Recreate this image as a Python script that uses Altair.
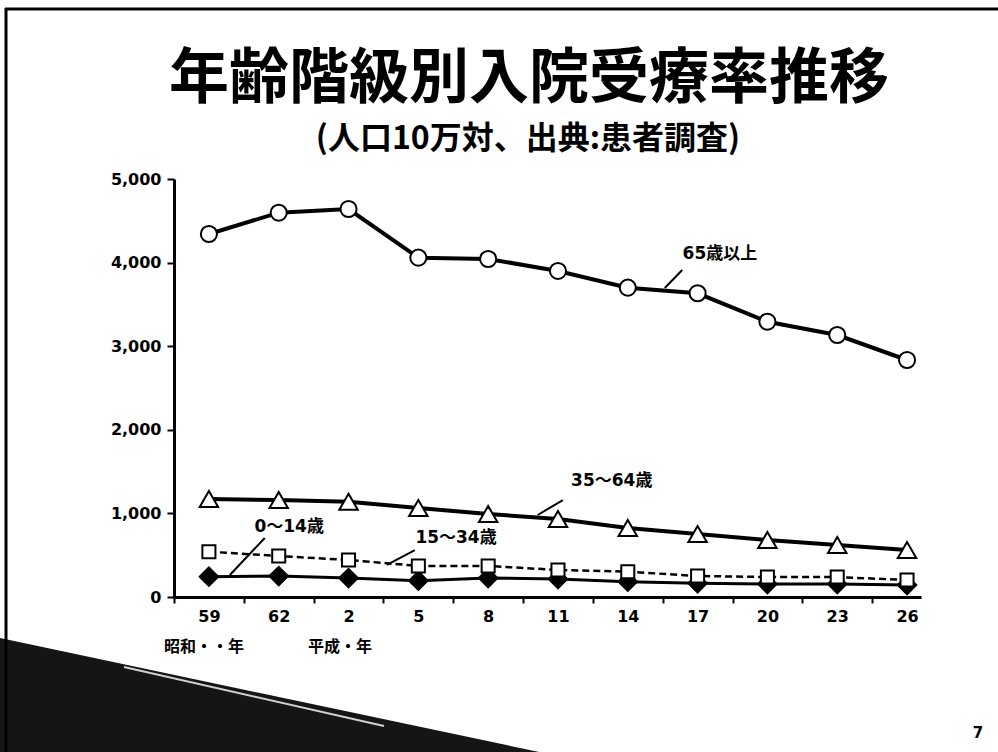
import altair as alt
import pandas as pd

# ---- data ----
years = ["59", "62", "2", "5", "8", "11", "14", "17", "20", "23", "26"]
age65 = [4342, 4597, 4641, 4059, 4043, 3900, 3700, 3633, 3293, 3134, 2835]
age35 = [1172, 1160, 1140, 1065, 993, 933, 825, 754, 682, 622, 562]
age15 = [542, 490, 443, 371, 371, 323, 303, 251, 239, 239, 203]
age0 = [243, 251, 227, 195, 227, 215, 183, 164, 155, 155, 143]

series_names = ["65歳以上", "35～64歳", "15～34歳", "0～14歳"]
label_x = [7.32, 5.77, 3.54, 1.15]
label_y = [4103, 1388, 706, 837]
ptr_x = [6.78, 5.07, 2.95, 0.80]
ptr_y = [3911, 1160, 562, 706]
ptr_x2 = [6.53, 4.71, 2.55, 0.30]
ptr_y2 = [3696, 981, 383, 263]

title_text = "年齢階級別入院受療率推移"
subtitle_text = "(人口10万対、出典:患者調査)"
era_labels = ["昭和・・年", "平成・年"]

W, H = 747, 418
NUM_FONT = "DejaVu Sans, Noto Sans CJK JP"
CJK_FONT = "Noto Sans CJK JP"

xscale = alt.Scale(domain=[-0.5, 10.2], nice=False, zero=False)
yscale = alt.Scale(domain=[0, 5000], nice=False, zero=True)
half = W / 10.7 / 2

label_expr = "[" + ",".join("'%s'" % y for y in years) + "][datum.value]"
xaxis = alt.Axis(values=list(range(11)), tickOffset=-half, labelOffset=half,
                 labelExpr=label_expr, labelFlush=False, title=None, grid=False,
                 domainColor="black", domainWidth=3, tickColor="black", tickWidth=2,
                 tickSize=6, labelFont="DejaVu Sans", labelFontWeight="bold",
                 labelFontSize=16, labelColor="black", labelPadding=5)
yaxis = alt.Axis(values=[0, 1000, 2000, 3000, 4000, 5000], format=",.0f", title=None,
                 grid=False, domainColor="black", domainWidth=3, tickColor="black",
                 tickWidth=2, tickSize=7, labelFont="DejaVu Sans", labelFontWeight="bold",
                 labelFontSize=16, labelColor="black", labelPadding=6)


def series_layers(vals, dash, sw, shape, fill, size):
    df = pd.DataFrame({"idx": list(range(len(years))), "value": vals})
    base = alt.Chart(df).encode(
        x=alt.X("idx:Q", scale=xscale, axis=xaxis),
        y=alt.Y("value:Q", scale=yscale, axis=yaxis),
    )
    lk = dict(color="black", strokeWidth=sw)
    if dash:
        lk["strokeDash"] = dash
    line = base.mark_line(**lk)
    pts = base.mark_point(shape=shape, filled=True, fill=fill, stroke="black",
                          strokeWidth=2, size=size, opacity=1)
    return [line, pts]


layers = []
layers += series_layers(age0, None, 3, "diamond", "black", 340)
layers += series_layers(age15, [7, 4], 2.5, "square", "white", 170)
layers += series_layers(age35, None, 4, "triangle-up", "white", 340)
layers += series_layers(age65, None, 4, "circle", "white", 260)

ann = pd.DataFrame({"label": series_names, "x": label_x, "y": label_y})
ann_text = alt.Chart(ann).mark_text(font=NUM_FONT, fontWeight="bold", fontSize=17,
                                    color="black", baseline="middle").encode(
    x=alt.X("x:Q", scale=xscale), y=alt.Y("y:Q", scale=yscale), text="label:N")

ptr = pd.DataFrame({"x": ptr_x, "y": ptr_y, "x2": ptr_x2, "y2": ptr_y2})
ptr_rules = alt.Chart(ptr).mark_rule(color="black", strokeWidth=2).encode(
    x=alt.X("x:Q", scale=xscale), y=alt.Y("y:Q", scale=yscale), x2="x2:Q", y2="y2:Q")

# ---- titles and slide text ----
tdf = pd.DataFrame({"t": [title_text]})
title = alt.Chart(tdf).mark_text(font=CJK_FONT, fontWeight="bold", fontSize=60,
                                 color="black", baseline="middle", align="center").encode(
    text="t:N", x=alt.value(355), y=alt.value(-99))
sdf = pd.DataFrame({"t": [subtitle_text]})
subtitle = alt.Chart(sdf).mark_text(font=CJK_FONT, fontWeight="bold", fontSize=32,
                                    color="black", baseline="middle", align="center").encode(
    text="t:N", x=alt.value(354), y=alt.value(-40))
e1 = alt.Chart(pd.DataFrame({"t": [era_labels[0]]})).mark_text(
    font=CJK_FONT, fontWeight="bold", fontSize=16, color="black", baseline="middle",
    align="center").encode(text="t:N", x=alt.value(30), y=alt.value(468))
e2 = alt.Chart(pd.DataFrame({"t": [era_labels[1]]})).mark_text(
    font=CJK_FONT, fontWeight="bold", fontSize=16, color="black", baseline="middle",
    align="center").encode(text="t:N", x=alt.value(166), y=alt.value(468))
pg = alt.Chart(pd.DataFrame({"t": ["7"]})).mark_text(
    font="DejaVu Sans", fontWeight="bold", fontSize=15, color="black", baseline="middle").encode(
    text="t:N", x=alt.value(804), y=alt.value(554))

# slide frame and corner decoration
frame_top = alt.Chart(pd.DataFrame({"a": [0]})).mark_rule(color="black", strokeWidth=3).encode(
    x=alt.value(-169), x2=alt.value(824), y=alt.value(-170), y2=alt.value(-170))
frame_left = alt.Chart(pd.DataFrame({"a": [0]})).mark_rule(color="black", strokeWidth=3).encode(
    x=alt.value(-168), x2=alt.value(-168), y=alt.value(-171), y2=alt.value(573))
wedge = alt.Chart(pd.DataFrame({"a": [0]})).mark_rule(color="#151515", strokeWidth=230,
                                                      strokeCap="butt").encode(
    x=alt.value(-385), x2=alt.value(495), y=alt.value(532), y2=alt.value(718))
wedge_line = alt.Chart(pd.DataFrame({"a": [0]})).mark_rule(color="#d0d0d0", strokeWidth=2).encode(
    x=alt.value(-50), x2=alt.value(210), y=alt.value(488), y2=alt.value(547))

chart = alt.layer(wedge, wedge_line, frame_top, frame_left, *layers, ann_text, ptr_rules,
                  title, subtitle, e1, e2, pg).properties(
    width=W, height=H,
    autosize=alt.AutoSizeParams(type="none"),
    padding={"left": 174, "top": 179, "right": 77, "bottom": 155},
    background="white",
).configure_view(stroke=None)

chart.save("out.html", embed_options={"renderer": "svg", "actions": False})
